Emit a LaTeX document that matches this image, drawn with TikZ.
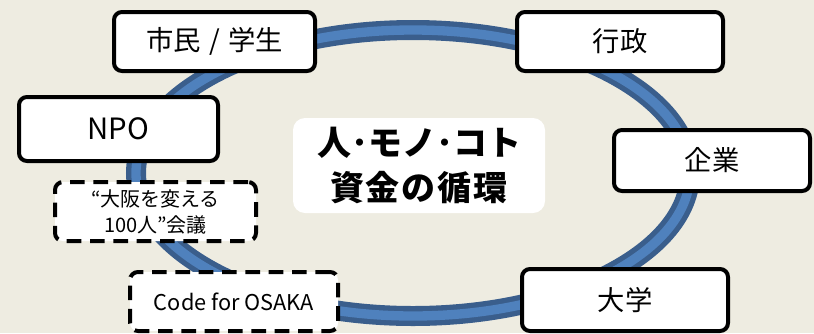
\documentclass[tikz,border=0pt]{standalone}
\usepackage{fontspec}
\setmainfont{Noto Sans CJK JP}
\setsansfont{Noto Sans CJK JP}
\definecolor{bgtan}{HTML}{EEECE1}
\definecolor{ringdark}{HTML}{3A5E8C}
\definecolor{ringlight}{HTML}{4F81BD}
\begin{document}
\begin{tikzpicture}[x=0.75pt,y=-0.75pt,
  solidbox/.style={draw=black,line width=3pt,fill=white,rounded corners=6pt,inner sep=0pt,align=center},
  dashbox/.style={solidbox,dash pattern=on 11pt off 6.5pt},
  boxfont/.style={font=\fontsize{20.5}{24}\selectfont},
  centerbox/.style={fill=white,rounded corners=9pt,inner sep=0pt,align=center,minimum width=189pt,minimum height=71.25pt}]
\useasboundingbox (0,0) rectangle (814,333);
\fill[bgtan] (0,0) rectangle (814,333);
% ring
\draw[ringdark,line width=15pt] (413,173) ellipse [x radius=207.75pt, y radius=107.25pt];
\draw[ringlight,line width=7pt] (413,173) ellipse [x radius=207.75pt, y radius=107.25pt];
% boxes
\node[solidbox,boxfont,minimum width=150.75pt,minimum height=44.25pt] (shimin) at (214.5,41.5) {市民\hspace{0.3em}/\hspace{0.3em}学生};
\node[solidbox,boxfont,minimum width=154.5pt,minimum height=44.25pt] (gyosei) at (620,41.5) {行政};
\node[solidbox,minimum width=149.25pt,minimum height=48pt,font=\fontsize{22}{26}\selectfont] (npo) at (118.5,129) {NPO};
\node[solidbox,boxfont,minimum width=147pt,minimum height=45.75pt] (kigyo) at (712,160.5) {企業};
\node[solidbox,boxfont,minimum width=154.5pt,minimum height=46.5pt] (daigaku) at (625,300) {大学};
\node[dashbox,minimum width=150.75pt,minimum height=44.25pt,font=\fontsize{15}{19.5}\selectfont] (osaka100) at (155.5,211.5) {“大阪を変える\\100人”会議};
\node[dashbox,minimum width=156pt,minimum height=44.25pt,font=\fontsize{16.3}{19}\selectfont] (code) at (234,301.5) {Code for OSAKA};
\node[centerbox,font=\bfseries\fontsize{25.5}{34}\selectfont] (center) at (419,165.5) {人･モノ･コト\\資\hspace{1.5pt}金\hspace{1.5pt}の\hspace{1.5pt}循\hspace{1.5pt}環};
\end{tikzpicture}
\end{document}
